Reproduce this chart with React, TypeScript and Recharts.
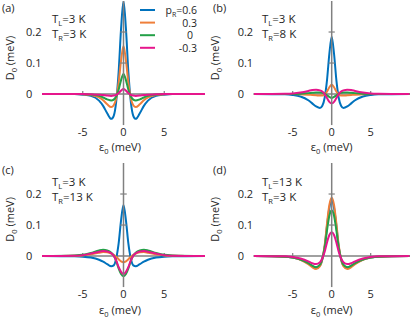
import React from 'react';
import { LineChart, Line, XAxis, YAxis, ReferenceLine } from 'recharts';

// x grid (meV)
const xs = [-10, -6, -5, -4, -3, -2.5, -2, -1.5, -1.2, -0.9, -0.6, -0.3, 0, 0.3, 0.6, 0.9, 1.2, 1.5, 2, 2.5, 3, 4, 5, 6, 10];

const seriesLabels = ['0.6', '0.3', '0', '-0.3'];
const seriesColors = ['#0072BD', '#EF7F3A', '#23A047', '#E6168C'];

const xTicks = [-5, 0, 5];
const yTicks = [0, 0.1, 0.2];

// (a) TL=3 K, TR=3 K
const blueA = [0, 0, -0.002, -0.006, -0.021, -0.038, -0.062, -0.08, -0.07, -0.025, 0.07, 0.21, 0.3, 0.21, 0.07, -0.025, -0.07, -0.08, -0.062, -0.038, -0.021, -0.006, -0.002, 0, 0];
const orangeA = [0, 0, -0.001, -0.003, -0.011, -0.02, -0.033, -0.042, -0.036, -0.014, 0.036, 0.108, 0.155, 0.108, 0.036, -0.014, -0.036, -0.042, -0.033, -0.02, -0.011, -0.003, -0.001, 0, 0];
const greenA = [0, 0, 0, -0.002, -0.006, -0.011, -0.017, -0.021, -0.018, -0.008, 0.014, 0.045, 0.065, 0.045, 0.014, -0.008, -0.018, -0.021, -0.017, -0.011, -0.006, -0.002, 0, 0, 0];
const pinkA = [0, 0, 0, -0.001, -0.002, -0.003, -0.005, -0.006, -0.005, -0.003, 0.003, 0.011, 0.016, 0.011, 0.003, -0.003, -0.005, -0.006, -0.005, -0.003, -0.002, -0.001, 0, 0, 0];

// (b) TL=3 K, TR=8 K
const blueB = [0, -0.001, -0.003, -0.008, -0.02, -0.03, -0.04, -0.045, -0.038, -0.012, 0.045, 0.13, 0.185, 0.13, 0.045, -0.012, -0.038, -0.045, -0.04, -0.03, -0.02, -0.008, -0.003, -0.001, 0];
const orangeB = [0, 0, 0, -0.001, -0.002, -0.003, -0.004, -0.005, -0.005, -0.002, 0.008, 0.022, 0.03, 0.022, 0.008, -0.002, -0.005, -0.005, -0.004, -0.003, -0.002, -0.001, 0, 0, 0];
const greenB = [0, 0, 0, 0.001, 0.003, 0.004, 0.005, 0.005, 0.004, 0.001, -0.004, -0.009, -0.012, -0.009, -0.004, 0.001, 0.004, 0.005, 0.005, 0.004, 0.003, 0.001, 0, 0, 0];
const pinkB = [0, 0.001, 0.002, 0.005, 0.01, 0.013, 0.014, 0.012, 0.008, 0, -0.013, -0.025, -0.03, -0.025, -0.013, 0, 0.008, 0.012, 0.014, 0.013, 0.01, 0.005, 0.002, 0.001, 0];

// (c) TL=3 K, TR=13 K
const blueC = [0, -0.001, -0.002, -0.005, -0.012, -0.018, -0.026, -0.033, -0.03, -0.008, 0.04, 0.115, 0.165, 0.115, 0.04, -0.008, -0.03, -0.033, -0.026, -0.018, -0.012, -0.005, -0.002, -0.001, 0];
const orangeC = [0, 0.001, 0.002, 0.006, 0.011, 0.013, 0.012, 0.008, 0.004, -0.002, -0.01, -0.017, -0.02, -0.017, -0.01, -0.002, 0.004, 0.008, 0.012, 0.013, 0.011, 0.006, 0.002, 0.001, 0];
const greenC = [0, 0.002, 0.004, 0.01, 0.018, 0.02, 0.018, 0.011, 0.002, -0.016, -0.04, -0.058, -0.065, -0.058, -0.04, -0.016, 0.002, 0.011, 0.018, 0.02, 0.018, 0.01, 0.004, 0.002, 0];
const pinkC = [0, 0.001, 0.003, 0.008, 0.014, 0.016, 0.015, 0.009, 0.001, -0.014, -0.035, -0.051, -0.058, -0.051, -0.035, -0.014, 0.001, 0.009, 0.015, 0.016, 0.014, 0.008, 0.003, 0.001, 0];

// (d) TL=13 K, TR=3 K
const blueD = [0, -0.002, -0.005, -0.011, -0.024, -0.032, -0.037, -0.03, -0.01, 0.03, 0.097, 0.155, 0.178, 0.155, 0.097, 0.03, -0.01, -0.03, -0.037, -0.032, -0.024, -0.011, -0.005, -0.002, 0];
const orangeD = [0, -0.002, -0.005, -0.012, -0.026, -0.036, -0.042, -0.033, -0.01, 0.035, 0.105, 0.165, 0.188, 0.165, 0.105, 0.035, -0.01, -0.033, -0.042, -0.036, -0.026, -0.012, -0.005, -0.002, 0];
const greenD = [0, -0.002, -0.005, -0.011, -0.023, -0.031, -0.036, -0.028, -0.008, 0.027, 0.083, 0.13, 0.148, 0.13, 0.083, 0.027, -0.008, -0.028, -0.036, -0.031, -0.023, -0.011, -0.005, -0.002, 0];
const pinkD = [0, -0.001, -0.003, -0.008, -0.017, -0.023, -0.026, -0.02, -0.007, 0.014, 0.044, 0.068, 0.077, 0.068, 0.044, 0.014, -0.007, -0.02, -0.026, -0.023, -0.017, -0.008, -0.003, -0.001, 0];

const panels = [
  { letter: '(a)', tl: '3', tr: '3', series: [blueA, orangeA, greenA, pinkA], col: 0, row: 0 },
  { letter: '(b)', tl: '3', tr: '8', series: [blueB, orangeB, greenB, pinkB], col: 1, row: 0 },
  { letter: '(c)', tl: '3', tr: '13', series: [blueC, orangeC, greenC, pinkC], col: 0, row: 1 },
  { letter: '(d)', tl: '13', tr: '3', series: [blueD, orangeD, greenD, pinkD], col: 1, row: 1 },
];

const FONT = '"Open Sans", "Noto Sans", sans-serif';
const GREY = '#808080';
const TEXT = '#262626';

const XTick = ({ x, y, payload }: any) => (
  <text x={x} y={y + 1} textAnchor="middle" fontSize={11} fontFamily={FONT} fill={TEXT}>
    {payload.value}
  </text>
);

const YTick = ({ x, y, payload }: any) => (
  <text x={x - 16} y={y + 4} textAnchor="start" fontSize={11} fontFamily={FONT} fill={TEXT}>
    {payload.value}
  </text>
);

const Panel = ({ p }: any) => {
  const yAxisW = p.col === 0 ? 42 : 48.7;
  const marginTop = p.row === 0 ? 1 : 4;
  const xAxisH = p.row === 0 ? 24 : 21;
  const width = yAxisW + 156 + (p.col === 0 ? 7 : 0);
  const dy = p.row === 0 ? 0 : 4;
  const tx = p.col === 0 ? 52 : 57;
  const zeroX = yAxisW + 78;

  const data = xs.map((x, i) => {
    const row: any = { x };
    p.series.forEach((s: number[], k: number) => (row['s' + k] = s[i]));
    return row;
  });

  return (
    <div style={{ position: 'absolute', left: p.col * 205, top: p.row * 159, width, height: 159 }}>
      <LineChart width={width} height={159} data={data} margin={{ top: marginTop, right: 0, bottom: 0, left: 0 }}>
        <XAxis
          type="number"
          dataKey="x"
          domain={[-10, 10]}
          ticks={xTicks}
          interval={0}
          axisLine={false}
          tickLine={false}
          tickSize={0}
          tickMargin={0}
          height={xAxisH}
          tick={XTick}
          allowDataOverflow
        />
        <YAxis
          type="number"
          domain={[-0.132, 0.3]}
          ticks={yTicks}
          interval={0}
          axisLine={false}
          tickLine={false}
          tickSize={0}
          tickMargin={0}
          width={yAxisW}
          tick={YTick}
          allowDataOverflow
        />
        <ReferenceLine y={0} stroke={GREY} strokeWidth={1.5} />
        {xTicks.filter((t) => t !== 0).map((t) => (
          <ReferenceLine key={'xt' + t} segment={[{ x: t, y: -0.003 }, { x: t, y: 0.01 }]} stroke={GREY} strokeWidth={1.2} />
        ))}
        {seriesLabels.map((_, k) => (
          <Line
            key={k}
            dataKey={'s' + k}
            type="monotone"
            stroke={seriesColors[k]}
            strokeWidth={2}
            dot={false}
            isAnimationActive={false}
          />
        ))}
        <ReferenceLine segment={[{ x: 0, y: -0.1 }, { x: 0, y: 0.3 }]} stroke={GREY} strokeWidth={1.5} />
        {yTicks.filter((t) => t !== 0).map((t) => (
          <ReferenceLine key={'yt' + t} segment={[{ x: -0.4, y: t }, { x: 0.4, y: t }]} stroke={GREY} strokeWidth={1.2} />
        ))}
      </LineChart>
      <svg width={width} height={159} style={{ position: 'absolute', left: 0, top: 0, pointerEvents: 'none' }}>
        <g fontFamily={FONT} fill={TEXT}>
          <text x={p.col === 0 ? 2 : 8} y={12 + dy * 0.7} fontSize={11}>{p.letter}</text>
          <text x={tx} y={23 + dy} fontSize={11.5}>
            T<tspan fontSize={7.5} dy={2.5}>L</tspan>
            <tspan dy={-2.5}>={p.tl} K</tspan>
          </text>
          <text x={tx} y={38 + dy} fontSize={11.5}>
            T<tspan fontSize={7.5} dy={2.5}>R</tspan>
            <tspan dy={-2.5}>={p.tr} K</tspan>
          </text>
          <text transform={`translate(14,${58 + dy * 0.6}) rotate(-90)`} textAnchor="middle" fontSize={11}>
            D<tspan fontSize={7.5} dy={2.5}>0</tspan>
            <tspan dy={-2.5}> (meV)</tspan>
          </text>
          <text x={zeroX} y={151 + (p.row === 0 ? 0 : 4)} textAnchor="middle" fontSize={11}>
            ε<tspan fontSize={7.5} dy={2.5}>0</tspan>
            <tspan dy={-2.5}> (meV)</tspan>
          </text>
        </g>
        {p.col === 0 && p.row === 0 && (
          <g fontFamily={FONT} fill={TEXT} fontSize={10.5}>
            {seriesLabels.map((lab, k) => {
              const y = 10 + k * 12.6;
              return (
                <g key={k}>
                  <line x1={140} x2={155} y1={y} y2={y} stroke={seriesColors[k]} strokeWidth={2} />
                  {k === 0 ? (
                    <text x={197} y={y + 4} textAnchor="end">
                      p<tspan fontSize={7} dy={2.5}>R</tspan>
                      <tspan dy={-2.5}>={lab}</tspan>
                    </text>
                  ) : (
                    <text x={lab === '0' ? 193 : 197} y={y + 4} textAnchor="end">{lab}</text>
                  )}
                </g>
              );
            })}
          </g>
        )}
      </svg>
    </div>
  );
}

export default function App() {
  return (
    <div style={{ position: 'absolute', left: 0, top: 0, width: 411, height: 318, overflow: 'hidden', background: '#fff' }}>
      {panels.map((p) => (
        <Panel key={p.letter} p={p} />
      ))}
    </div>
  );
}
